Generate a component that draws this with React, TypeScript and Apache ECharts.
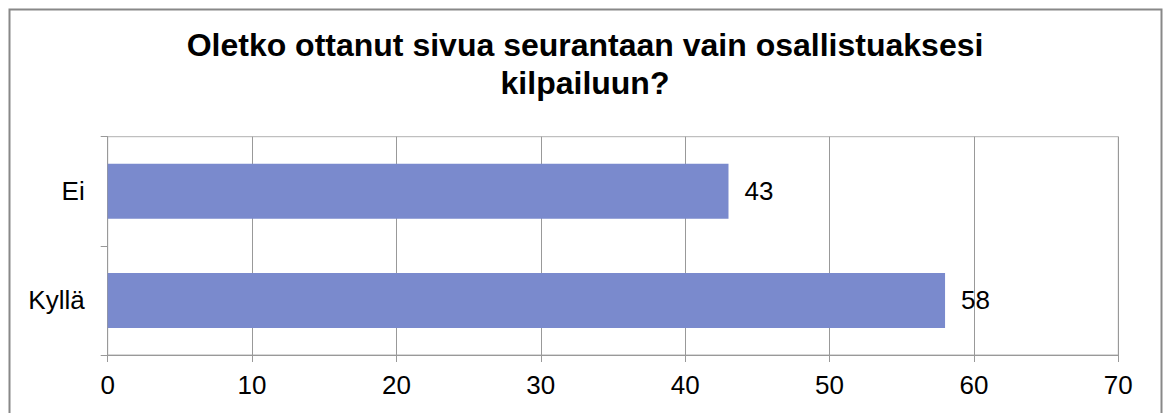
import React, { useEffect, useRef } from "react";
import * as echarts from "echarts";

const categories = ["Ei", "Kyllä"];
const values = [43, 58];
const xTicks = { min: 0, max: 70, interval: 10 };
const titleText = "Oletko ottanut sivua seurantaan vain osallistuaksesi\nkilpailuun?";

export default function App() {
  const ref = useRef<HTMLDivElement>(null);
  useEffect(() => {
    document.body.style.margin = "0";
    const chart = echarts.init(ref.current!, null, { renderer: "svg" });
    const font = "'Liberation Sans', Arial, sans-serif";
    chart.setOption({
      animation: false,
      backgroundColor: "#ffffff",
      graphic: [
        {
          type: "rect",
          shape: { x: 9.5, y: 9.5, width: 1152, height: 460 },
          style: { fill: "none", stroke: "#888", lineWidth: 2 },
          silent: true,
        },
        {
          type: "text",
          x: 585,
          y: 26,
          silent: true,
          style: {
            text: titleText,
            align: "center",
            verticalAlign: "top",
            fontFamily: font,
            fontWeight: "bold",
            fontSize: 32,
            lineHeight: 38,
            fill: "#000",
          },
        },
      ],
      grid: {
        left: 107.7,
        right: 45.7,
        top: 136.7,
        bottom: 58,
        show: true,
        borderColor: "#b0b0b0",
        borderWidth: 1,
        backgroundColor: "transparent",
      },
      xAxis: {
        type: "value",
        min: xTicks.min,
        max: xTicks.max,
        interval: xTicks.interval,
        axisLine: { show: true, lineStyle: { color: "#999", width: 1 } },
        axisTick: { show: true, length: 7, lineStyle: { color: "#999" } },
        splitLine: { show: true, lineStyle: { color: "#999", width: 1 } },
        axisLabel: {
          fontFamily: font,
          fontSize: 26,
          color: "#000",
          margin: 17,
        },
      },
      yAxis: {
        type: "category",
        data: categories,
        inverse: true,
        axisLine: { show: true, lineStyle: { color: "#999", width: 1 } },
        axisTick: { show: true, length: 7, lineStyle: { color: "#999" } },
        splitLine: { show: false },
        axisLabel: {
          fontFamily: font,
          fontSize: 26,
          color: "#000",
          margin: 23,
        },
      },
      series: [
        {
          type: "bar",
          data: values,
          barWidth: 55,
          itemStyle: { color: "#7a8acd" },
          label: {
            show: true,
            position: "right",
            distance: 16,
            fontFamily: font,
            fontSize: 26,
            color: "#000",
          },
        },
      ],
    });
    return () => chart.dispose();
  }, []);
  return <div ref={ref} style={{ width: 1164, height: 413 }} />;
}
